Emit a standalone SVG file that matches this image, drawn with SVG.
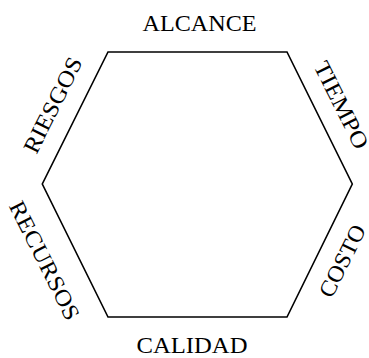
<svg xmlns="http://www.w3.org/2000/svg" width="369" height="358" viewBox="0 0 369 358">
<style>
.lbl{font-family:"Liberation Serif","Times New Roman",serif;font-size:23px;fill:#000;text-anchor:middle}
.hex{fill:none;stroke:#000;stroke-width:1.6;stroke-linejoin:miter}
</style>
<rect width="369" height="358" fill="#fff"/>
<g id="hexagon">
<polygon class="hex" points="108,52 287,52 352.3,184 287,317 108,317 42.3,184"/>
</g>
<g id="alcance"><text class="lbl" x="199.5" y="31" textLength="114" lengthAdjust="spacingAndGlyphs">ALCANCE</text></g>
<g id="calidad"><text class="lbl" x="192" y="353" textLength="111" lengthAdjust="spacingAndGlyphs">CALIDAD</text></g>
<g id="riesgos" transform="translate(52.9,105) rotate(-63.4)"><text class="lbl" x="0" y="7.6" textLength="104" lengthAdjust="spacingAndGlyphs">RIESGOS</text></g>
<g id="tiempo" transform="translate(341.3,105) rotate(63.4)"><text class="lbl" x="0" y="7.6" textLength="95" lengthAdjust="spacingAndGlyphs">TIEMPO</text></g>
<g id="recursos" transform="translate(44.5,260.5) rotate(63.4)"><text class="lbl" x="0" y="7.6" textLength="130" lengthAdjust="spacingAndGlyphs">RECURSOS</text></g>
<g id="costo" transform="translate(342.3,261) rotate(-63.4)"><text class="lbl" x="0" y="7.6" textLength="78" lengthAdjust="spacingAndGlyphs">COSTO</text></g>
</svg>
